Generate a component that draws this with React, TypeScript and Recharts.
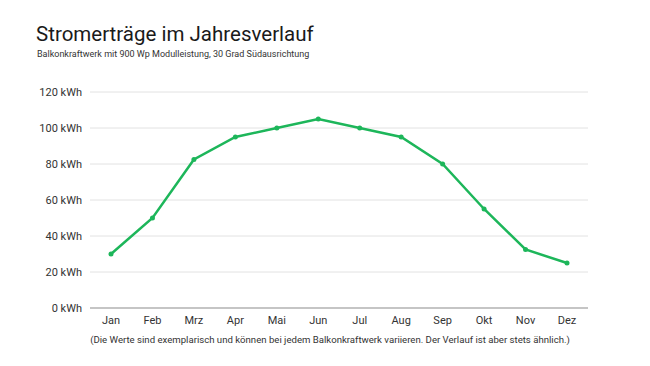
import { LineChart, Line, XAxis, YAxis, CartesianGrid } from 'recharts';

const months = ['Jan', 'Feb', 'Mrz', 'Apr', 'Mai', 'Jun', 'Jul', 'Aug', 'Sep', 'Okt', 'Nov', 'Dez'];
const ertrag = [30, 50, 82.5, 95, 100, 105, 100, 95, 80, 55, 32.5, 25];
const yTicks = [0, 20, 40, 60, 80, 100, 120];

const data = months.map((m, i) => ({ month: m, kwh: ertrag[i] }));

const FONT = 'Roboto, "Noto Sans", sans-serif';
const GREEN = '#1db65a';

export default function App() {
  return (
    <div
      style={{
        position: 'absolute',
        left: 0,
        top: 0,
        width: 650,
        height: 366,
        background: '#fff',
        fontFamily: FONT,
        color: '#1a1a1a',
        overflow: 'hidden',
      }}
    >
      <div style={{ position: 'absolute', left: 36, top: 22, fontSize: 20.5, lineHeight: '24px' }}>
        Stromerträge im Jahresverlauf
      </div>
      <div style={{ position: 'absolute', left: 37, top: 48, fontSize: 9, lineHeight: '12px', color: '#333' }}>
        Balkonkraftwerk mit 900 Wp Modulleistung, 30 Grad Südausrichtung
      </div>

      <div style={{ position: 'absolute', left: 0, top: 0 }}>
        <LineChart
          width={650}
          height={366}
          data={data}
          margin={{ top: 92, right: 62, bottom: 28, left: 30 }}
        >
          <CartesianGrid vertical={false} stroke="#e2e2e2" strokeWidth={1} />
          <XAxis
            dataKey="month"
            height={30}
            padding={{ left: 21, right: 21 }}
            axisLine={{ stroke: '#999', strokeWidth: 1 }}
            tickLine={false}
            tick={{ fill: '#333', fontSize: 11, fontFamily: FONT }}
            interval={0}
          />
          <YAxis
            width={60}
            domain={[0, 120]}
            ticks={yTicks}
            axisLine={false}
            tickLine={false}
            tickFormatter={(v) => `${v} kWh`}
            tick={{ fill: '#333', fontSize: 11, fontFamily: FONT }}
          />
          <Line
            type="linear"
            dataKey="kwh"
            stroke={GREEN}
            strokeWidth={2.5}
            dot={{ r: 2.5, fill: GREEN, stroke: GREEN, strokeWidth: 0 }}
            isAnimationActive={false}
          />
        </LineChart>
      </div>

      <div
        style={{
          position: 'absolute',
          left: 0,
          width: 660,
          top: 334,
          textAlign: 'center',
          fontSize: 9.6,
          lineHeight: '12px',
          color: '#333',
        }}
      >
        (Die Werte sind exemplarisch und können bei jedem Balkonkraftwerk variieren. Der Verlauf ist aber stets ähnlich.)
      </div>
    </div>
  );
}
